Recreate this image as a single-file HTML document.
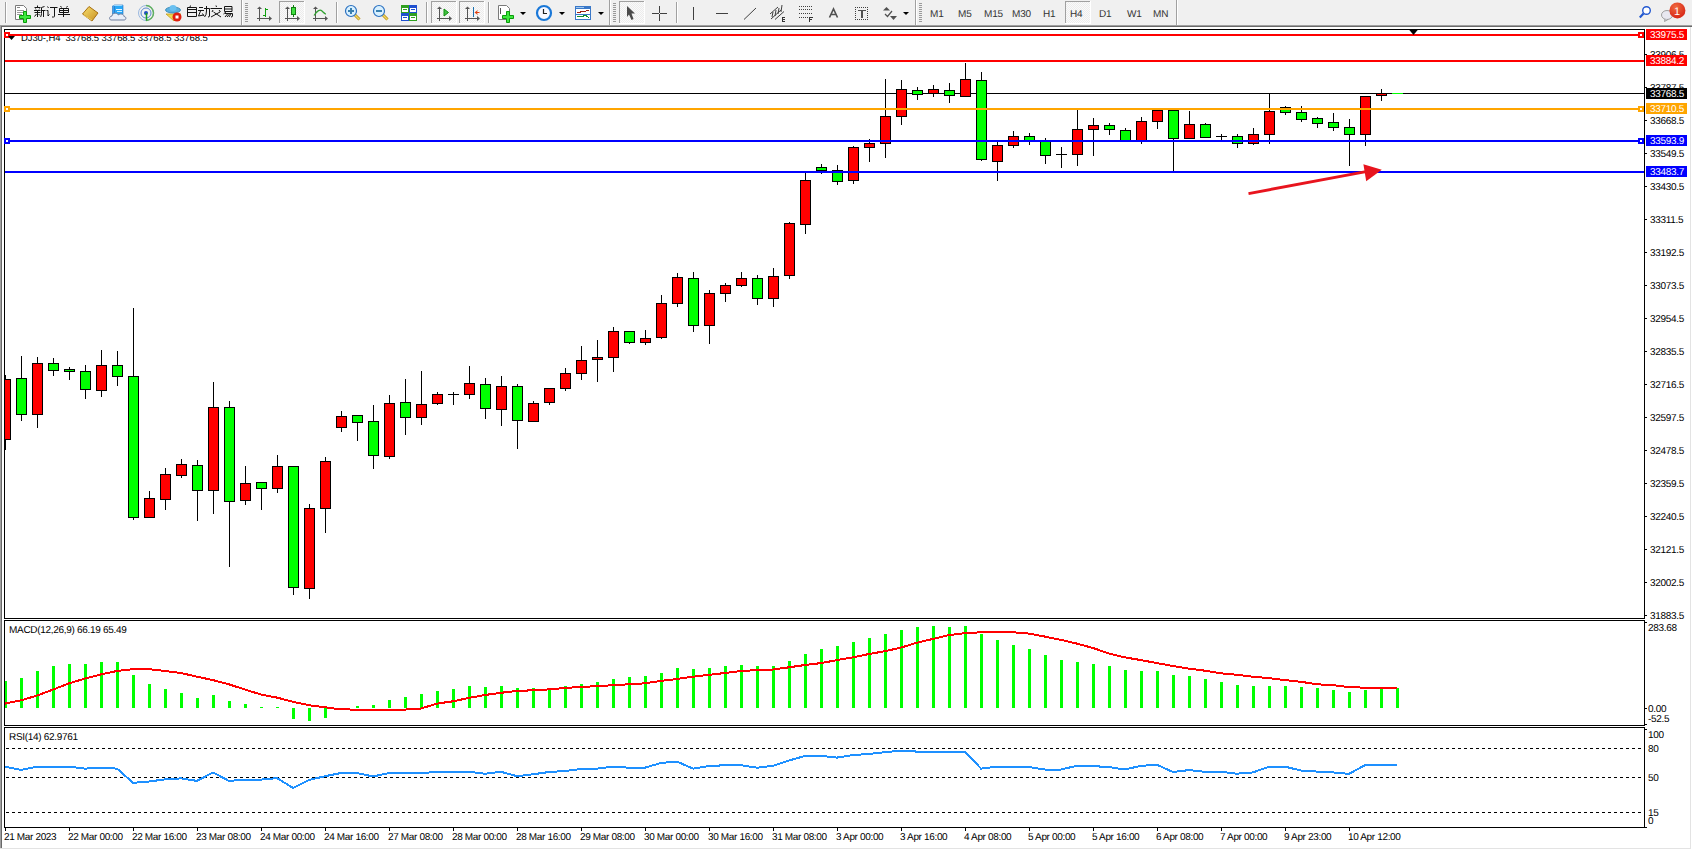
<!DOCTYPE html>
<html><head><meta charset="utf-8"><title>MT4</title>
<style>
html,body{margin:0;padding:0;width:1692px;height:850px;overflow:hidden;background:#f0f0f0;}
svg{display:block;position:absolute;left:0;top:0;}
text{font-family:"Liberation Sans",sans-serif;text-rendering:geometricPrecision;}
</style></head><body>
<svg width="1692" height="850" viewBox="0 0 1692 850" shape-rendering="crispEdges">
<rect x="0" y="0" width="1692" height="25" fill="#f0f0f0"/>
<defs><pattern id="chk" width="2" height="2" patternUnits="userSpaceOnUse"><rect width="2" height="2" fill="#fafafa"/><rect width="1" height="1" fill="#ececec"/><rect x="1" y="1" width="1" height="1" fill="#ececec"/></pattern><radialGradient id="bdg" cx="0.4" cy="0.3" r="0.8"><stop offset="0" stop-color="#f06a40"/><stop offset="1" stop-color="#d41e10"/></radialGradient><linearGradient id="gold" x1="0" y1="0" x2="1" y2="1"><stop offset="0" stop-color="#f8e070"/><stop offset="1" stop-color="#c89020"/></linearGradient></defs>
<rect x="5" y="2" width="1" height="21" fill="#a0a0a0"/>
<rect x="6" y="2" width="1" height="21" fill="#ffffff"/>
<path d="M15.5,5.5h8l3,3v11h-11z" fill="#fff" stroke="#7a7a7a" stroke-width="1" shape-rendering="auto"/>
<rect x="17" y="7" width="3" height="1" fill="#888"/>
<rect x="17" y="10" width="7" height="1" fill="#999"/>
<rect x="17" y="12" width="7" height="1" fill="#999"/>
<rect x="17" y="14" width="5" height="1" fill="#999"/>
<path d="M23.5,11.5h3v4h4v3h-4v4h-3v-4h-4v-3h4z" fill="#3ee83e" stroke="#0a9a0a" stroke-width="1" shape-rendering="auto"/>
<g fill="none" stroke="#141414" stroke-width="1" shape-rendering="auto"><path d="M37.5,5.5V7.5 M34.5,7.5H40.5 M35.5,8.5L36,9.5 M39.5,8.5L39,9.5 M34,10.5H40.5 M34.5,12.5H40.5 M37.5,10.5V17 M36.5,14L34.5,16.5 M38.5,14L40,15.5"/><path d="M44.5,6.5L41.5,7.5V13.5Q41.5,16 40.5,17 M41.5,10.5H45.5 M43.5,10.5V17"/><path d="M47.5,6.5L48.5,8 M46.5,10.5H48V16L49.5,14.5 M50,7.5H57.5 M54.5,7.5V16.5Q54.5,17 53.5,17H52"/><path d="M60.5,6L61.5,7.5 M67.5,6L66.5,7.5 M59.5,8.5H68.5V12.5H59.5Z M59.5,10.5H68.5 M63.5,8.5V17 M58,14.5H70"/></g>
<path d="M82.5,14 L89,6.5 L98,13 L92,21 Z" fill="url(#gold)" stroke="#a87010" stroke-width="1" shape-rendering="auto"/>
<path d="M84,15.5 L92,20" stroke="#e8c860" stroke-width="1" fill="none" shape-rendering="auto"/>
<g shape-rendering="auto"><path d="M112.5,6 L114.5,5 L114.5,15 L112.5,14 Z" fill="#3aa0f0" stroke="#2070c0" stroke-width="0.6"/><path d="M114.5,5 H123 V14.5 H114.5 Z" fill="#28a8f8" stroke="#2070c0" stroke-width="0.6"/><path d="M112.5,6 L114.5,5 H123 L121.5,6 Z" fill="#9ad8ff"/></g>
<rect x="116" y="9" width="6" height="1" fill="#e8f6ff"/>
<rect x="117" y="11" width="5" height="1" fill="#c8ecff"/>
<path d="M111,20 C109,20 109,16 112,16 C112,13 117,12 118.5,15 C120,13 124,14 124,16.5 C126.5,16.5 126.5,20 124,20 Z" fill="#e8eef8" stroke="#7080a0" stroke-width="1" shape-rendering="auto"/>
<g shape-rendering="auto" fill="none"><circle cx="146" cy="13" r="7.5" stroke="#9ab8e0" stroke-width="1"/><circle cx="146" cy="13" r="5" stroke="#5a88d0" stroke-width="1"/><path d="M146,5.5 A7.5,7.5 0 0 1 146,20.5" stroke="#60b060" stroke-width="1.5"/><circle cx="146" cy="13" r="2" fill="#2050c0" stroke="none"/><path d="M146.5,13 V20.5" stroke="#20a020" stroke-width="1.5"/></g>
<g shape-rendering="auto"><path d="M166,14 L174,21 L181,14 Z" fill="#f0d850" stroke="#c0a020" stroke-width="0.8"/><ellipse cx="173" cy="10" rx="7.5" ry="3" fill="#5ab0e0" stroke="#2a80b0" stroke-width="0.8"/><ellipse cx="173" cy="8" rx="3.5" ry="3" fill="#6ac0f0"/><circle cx="177" cy="17" r="4.5" fill="#e02010"/><rect x="175.5" y="15.5" width="3" height="3" fill="#fff"/></g>
<g fill="none" stroke="#141414" stroke-width="1" shape-rendering="auto"><path d="M190.5,5.5L190,7 M187.5,7.5H196.5V16.5H187.5Z M187.5,9.5H196.5 M187.5,12.5H196.5"/><path d="M199,7.5H203 M198,10.5H204 M200.5,11L198.5,16 L203.5,15 M202.5,13.5L204,16 M204,8.5H209.5V16Q209.5,17 208,17 M206.5,6V11Q206.5,15 204.5,17"/><path d="M216,5.5L216.5,7 M210.5,8.5H222 M213,10L212,12 M219,10L220.5,12 M213.5,12L221,17 M220,12L211,17"/><path d="M224.5,6.5H232V11.5H224.5Z M224.5,9H232 M226.5,11.5L223.5,14 M225,13.5H232.5V16Q232.5,17 231,17 M227.5,14L225,17 M229.5,14L227,17 M231,14L229,17"/></g>
<rect x="241" y="0" width="1" height="25" fill="#a0a0a0"/>
<rect x="242" y="0" width="1" height="25" fill="#ffffff"/>
<rect x="245" y="3" width="3" height="1" fill="#9a9a9a"/>
<rect x="245" y="5" width="3" height="1" fill="#9a9a9a"/>
<rect x="245" y="7" width="3" height="1" fill="#9a9a9a"/>
<rect x="245" y="9" width="3" height="1" fill="#9a9a9a"/>
<rect x="245" y="11" width="3" height="1" fill="#9a9a9a"/>
<rect x="245" y="13" width="3" height="1" fill="#9a9a9a"/>
<rect x="245" y="15" width="3" height="1" fill="#9a9a9a"/>
<rect x="245" y="17" width="3" height="1" fill="#9a9a9a"/>
<rect x="245" y="19" width="3" height="1" fill="#9a9a9a"/>
<rect x="245" y="21" width="3" height="1" fill="#9a9a9a"/>
<rect x="259" y="7" width="1" height="14" fill="#555"/>
<rect x="257" y="18" width="14" height="1" fill="#555"/>
<polygon points="257,9 262,9 259.5,6.5" fill="#555" shape-rendering="auto"/>
<polygon points="269,16 269,21 272,18.5" fill="#555" shape-rendering="auto"/>
<path d="M265.5,8 V16.5 M265.5,9.5 H268 M265.5,15.5 H263" stroke="#10a010" stroke-width="1.2" fill="none"/>
<rect x="279" y="1" width="26" height="23" fill="url(#chk)"/>
<rect x="279" y="1" width="25" height="1" fill="#a0a0a0"/>
<rect x="279" y="1" width="1" height="22" fill="#a0a0a0"/>
<rect x="279" y="23" width="26" height="1" fill="#ffffff"/>
<rect x="304" y="1" width="1" height="23" fill="#ffffff"/>
<rect x="287" y="7" width="1" height="14" fill="#555"/>
<rect x="285" y="18" width="14" height="1" fill="#555"/>
<polygon points="285,9 290,9 287.5,6.5" fill="#555" shape-rendering="auto"/>
<polygon points="297,16 297,21 300,18.5" fill="#555" shape-rendering="auto"/>
<rect x="293" y="5" width="1" height="12" fill="#108010"/>
<rect x="291" y="7" width="5" height="8" fill="#108010"/>
<rect x="292" y="8" width="3" height="6" fill="#40e040"/>
<rect x="315" y="7" width="1" height="14" fill="#555"/>
<rect x="313" y="18" width="14" height="1" fill="#555"/>
<polygon points="313,9 318,9 315.5,6.5" fill="#555" shape-rendering="auto"/>
<polygon points="325,16 325,21 328,18.5" fill="#555" shape-rendering="auto"/>
<path d="M314,15.5 Q319,8 322,11 T326,14" stroke="#30a030" stroke-width="1.2" fill="none" shape-rendering="auto"/>
<rect x="336" y="2" width="1" height="21" fill="#a0a0a0"/>
<rect x="337" y="2" width="1" height="21" fill="#ffffff"/>
<g shape-rendering="auto"><line x1="354.5" y1="14.5" x2="359.5" y2="19.5" stroke="#b88a10" stroke-width="3"/><line x1="354.5" y1="14.5" x2="359.5" y2="19.5" stroke="#f0d860" stroke-width="1.5"/><circle cx="351" cy="11" r="5.5" fill="#d8f0ff" stroke="#2a70c0" stroke-width="1.2"/><rect x="348" y="10" width="6" height="2" fill="#3a80b0"/><rect x="350" y="8" width="2" height="6" fill="#3a80b0"/></g>
<g shape-rendering="auto"><line x1="382.5" y1="14.5" x2="387.5" y2="19.5" stroke="#b88a10" stroke-width="3"/><line x1="382.5" y1="14.5" x2="387.5" y2="19.5" stroke="#f0d860" stroke-width="1.5"/><circle cx="379" cy="11" r="5.5" fill="#d8f0ff" stroke="#2a70c0" stroke-width="1.2"/><rect x="376" y="10" width="6" height="2" fill="#3a80b0"/></g>
<rect x="401" y="5" width="8" height="8" fill="#30a020"/>
<rect x="402" y="8" width="6" height="4" fill="#ffffff"/>
<rect x="403" y="9" width="4" height="1" fill="#30a020"/>
<rect x="409" y="5" width="8" height="8" fill="#2050d0"/>
<rect x="410" y="8" width="6" height="4" fill="#ffffff"/>
<rect x="411" y="9" width="4" height="1" fill="#2050d0"/>
<rect x="401" y="13" width="8" height="8" fill="#2050d0"/>
<rect x="402" y="16" width="6" height="4" fill="#ffffff"/>
<rect x="403" y="17" width="4" height="1" fill="#2050d0"/>
<rect x="409" y="13" width="8" height="8" fill="#30a020"/>
<rect x="410" y="16" width="6" height="4" fill="#ffffff"/>
<rect x="411" y="17" width="4" height="1" fill="#30a020"/>
<rect x="426" y="2" width="1" height="21" fill="#a0a0a0"/>
<rect x="427" y="2" width="1" height="21" fill="#ffffff"/>
<rect x="431" y="1" width="26" height="23" fill="url(#chk)"/>
<rect x="431" y="1" width="25" height="1" fill="#a0a0a0"/>
<rect x="431" y="1" width="1" height="22" fill="#a0a0a0"/>
<rect x="431" y="23" width="26" height="1" fill="#ffffff"/>
<rect x="456" y="1" width="1" height="23" fill="#ffffff"/>
<rect x="439" y="7" width="1" height="14" fill="#555"/>
<rect x="437" y="18" width="14" height="1" fill="#555"/>
<polygon points="437,9 442,9 439.5,6.5" fill="#555" shape-rendering="auto"/>
<polygon points="449,16 449,21 452,18.5" fill="#555" shape-rendering="auto"/>
<polygon points="444,9 448.5,12.5 444,16" fill="#40c040" stroke="#109010" stroke-width="1" shape-rendering="auto"/>
<rect x="459" y="1" width="26" height="23" fill="url(#chk)"/>
<rect x="459" y="1" width="25" height="1" fill="#a0a0a0"/>
<rect x="459" y="1" width="1" height="22" fill="#a0a0a0"/>
<rect x="459" y="23" width="26" height="1" fill="#ffffff"/>
<rect x="484" y="1" width="1" height="23" fill="#ffffff"/>
<rect x="467" y="7" width="1" height="14" fill="#555"/>
<rect x="465" y="18" width="14" height="1" fill="#555"/>
<polygon points="465,9 470,9 467.5,6.5" fill="#555" shape-rendering="auto"/>
<polygon points="477,16 477,21 480,18.5" fill="#555" shape-rendering="auto"/>
<rect x="473" y="7" width="1" height="10" fill="#1a70b0"/>
<polygon points="474.5,12.5 478,10 477,12 479.5,12 479.5,13 477,13 478,15" fill="#e04010" shape-rendering="auto"/>
<rect x="488" y="2" width="1" height="21" fill="#a0a0a0"/>
<rect x="489" y="2" width="1" height="21" fill="#ffffff"/>
<path d="M498.5,5.5h8l3,3v11h-11z" fill="#fff" stroke="#7a7a7a" stroke-width="1" shape-rendering="auto"/>
<rect x="500" y="8" width="1" height="6" fill="#555"/>
<path d="M506.5,11.5h3v4h4v3h-4v4h-3v-4h-4v-3h4z" fill="#3ee83e" stroke="#0a9a0a" stroke-width="1" shape-rendering="auto"/>
<polygon points="520,12 526,12 523,15" fill="#000" shape-rendering="auto"/>
<g shape-rendering="auto"><circle cx="544" cy="13" r="7" fill="#f8f8ff" stroke="#1a78d8" stroke-width="2.2"/><path d="M543.5,9 V13.5 H547" stroke="#222" stroke-width="1.2" fill="none"/></g>
<polygon points="559,12 565,12 562,15" fill="#000" shape-rendering="auto"/>
<rect x="575" y="6" width="16" height="14" fill="#3a78c8"/>
<rect x="576" y="9" width="14" height="5" fill="#fff"/>
<rect x="576" y="15" width="14" height="4" fill="#fff"/>
<rect x="576" y="7" width="8" height="1" fill="#a0c8f0"/>
<path d="M577,12.5 L580,12.5 L582,11 L584,11.5 L586,11 L589,10.5" stroke="#a02010" stroke-width="1" fill="none"/><path d="M577,17 L580,16 L582,17 L585,15 L589,17.5" stroke="#10902a" stroke-width="1" fill="none"/>
<polygon points="598,12 604,12 601,15" fill="#000" shape-rendering="auto"/>
<rect x="609" y="0" width="1" height="25" fill="#a0a0a0"/>
<rect x="610" y="0" width="1" height="25" fill="#ffffff"/>
<rect x="613" y="3" width="3" height="1" fill="#9a9a9a"/>
<rect x="613" y="5" width="3" height="1" fill="#9a9a9a"/>
<rect x="613" y="7" width="3" height="1" fill="#9a9a9a"/>
<rect x="613" y="9" width="3" height="1" fill="#9a9a9a"/>
<rect x="613" y="11" width="3" height="1" fill="#9a9a9a"/>
<rect x="613" y="13" width="3" height="1" fill="#9a9a9a"/>
<rect x="613" y="15" width="3" height="1" fill="#9a9a9a"/>
<rect x="613" y="17" width="3" height="1" fill="#9a9a9a"/>
<rect x="613" y="19" width="3" height="1" fill="#9a9a9a"/>
<rect x="613" y="21" width="3" height="1" fill="#9a9a9a"/>
<rect x="619" y="1" width="26" height="23" fill="url(#chk)"/>
<rect x="619" y="1" width="25" height="1" fill="#a0a0a0"/>
<rect x="619" y="1" width="1" height="22" fill="#a0a0a0"/>
<rect x="619" y="23" width="26" height="1" fill="#ffffff"/>
<rect x="644" y="1" width="1" height="23" fill="#ffffff"/>
<polygon points="627,6 635,13.5 631.5,13.5 633.5,19 631.5,20 629,14.5 627,17" fill="#4a4a4a" shape-rendering="auto"/>
<rect x="652" y="13" width="7" height="1" fill="#404040"/>
<rect x="660" y="13" width="7" height="1" fill="#404040"/>
<rect x="659" y="6" width="1" height="7" fill="#404040"/>
<rect x="659" y="14" width="1" height="7" fill="#404040"/>
<rect x="676" y="2" width="1" height="21" fill="#a0a0a0"/>
<rect x="677" y="2" width="1" height="21" fill="#ffffff"/>
<rect x="693" y="7" width="1" height="13" fill="#404040"/>
<rect x="716" y="13" width="12" height="1" fill="#404040"/>
<line x1="744" y1="19.5" x2="756" y2="8" stroke="#404040" stroke-width="1" shape-rendering="auto"/>
<g shape-rendering="auto" stroke="#404040" stroke-width="1" fill="none"><path d="M770,14 L778,7 M771,19 L781,10 M775,19.5 L784,11.5 M772,17 L773,12 M775,16 L776,10 M778,14 L779,8 M781,12 L782,5"/></g>
<path d="M785,17.5H782.2V21.5H785 M782.2,19.5H784.5" stroke="#333" stroke-width="1.2" fill="none"/>
<rect x="799" y="6" width="1" height="1" fill="#404040"/>
<rect x="801" y="6" width="1" height="1" fill="#404040"/>
<rect x="803" y="6" width="1" height="1" fill="#404040"/>
<rect x="805" y="6" width="1" height="1" fill="#404040"/>
<rect x="807" y="6" width="1" height="1" fill="#404040"/>
<rect x="809" y="6" width="1" height="1" fill="#404040"/>
<rect x="811" y="6" width="1" height="1" fill="#404040"/>
<rect x="799" y="9" width="1" height="1" fill="#404040"/>
<rect x="801" y="9" width="1" height="1" fill="#404040"/>
<rect x="803" y="9" width="1" height="1" fill="#404040"/>
<rect x="805" y="9" width="1" height="1" fill="#404040"/>
<rect x="807" y="9" width="1" height="1" fill="#404040"/>
<rect x="809" y="9" width="1" height="1" fill="#404040"/>
<rect x="811" y="9" width="1" height="1" fill="#404040"/>
<rect x="799" y="13" width="1" height="1" fill="#404040"/>
<rect x="801" y="13" width="1" height="1" fill="#404040"/>
<rect x="803" y="13" width="1" height="1" fill="#404040"/>
<rect x="805" y="13" width="1" height="1" fill="#404040"/>
<rect x="807" y="13" width="1" height="1" fill="#404040"/>
<rect x="809" y="13" width="1" height="1" fill="#404040"/>
<rect x="811" y="13" width="1" height="1" fill="#404040"/>
<rect x="799" y="17" width="1" height="1" fill="#404040"/>
<rect x="801" y="17" width="1" height="1" fill="#404040"/>
<rect x="803" y="17" width="1" height="1" fill="#404040"/>
<rect x="805" y="17" width="1" height="1" fill="#404040"/>
<rect x="807" y="17" width="1" height="1" fill="#404040"/>
<path d="M812.5,17.5H809.7V22 M809.7,19.5H812" stroke="#333" stroke-width="1.2" fill="none"/>
<path d="M829.5,17.5L833.5,9L837.5,17.5 M831,14.5H836" stroke="#505050" stroke-width="1.6" fill="none" shape-rendering="auto"/>
<rect x="855" y="7" width="1" height="1" fill="#404040"/>
<rect x="855" y="19" width="1" height="1" fill="#404040"/>
<rect x="857" y="7" width="1" height="1" fill="#404040"/>
<rect x="857" y="19" width="1" height="1" fill="#404040"/>
<rect x="859" y="7" width="1" height="1" fill="#404040"/>
<rect x="859" y="19" width="1" height="1" fill="#404040"/>
<rect x="861" y="7" width="1" height="1" fill="#404040"/>
<rect x="861" y="19" width="1" height="1" fill="#404040"/>
<rect x="863" y="7" width="1" height="1" fill="#404040"/>
<rect x="863" y="19" width="1" height="1" fill="#404040"/>
<rect x="865" y="7" width="1" height="1" fill="#404040"/>
<rect x="865" y="19" width="1" height="1" fill="#404040"/>
<rect x="867" y="7" width="1" height="1" fill="#404040"/>
<rect x="867" y="19" width="1" height="1" fill="#404040"/>
<rect x="855" y="7" width="1" height="1" fill="#404040"/>
<rect x="867" y="7" width="1" height="1" fill="#404040"/>
<rect x="855" y="9" width="1" height="1" fill="#404040"/>
<rect x="867" y="9" width="1" height="1" fill="#404040"/>
<rect x="855" y="11" width="1" height="1" fill="#404040"/>
<rect x="867" y="11" width="1" height="1" fill="#404040"/>
<rect x="855" y="13" width="1" height="1" fill="#404040"/>
<rect x="867" y="13" width="1" height="1" fill="#404040"/>
<rect x="855" y="15" width="1" height="1" fill="#404040"/>
<rect x="867" y="15" width="1" height="1" fill="#404040"/>
<rect x="855" y="17" width="1" height="1" fill="#404040"/>
<rect x="867" y="17" width="1" height="1" fill="#404040"/>
<rect x="855" y="19" width="1" height="1" fill="#404040"/>
<rect x="867" y="19" width="1" height="1" fill="#404040"/>
<rect x="858" y="10" width="8" height="1" fill="#505050"/>
<rect x="861" y="10" width="2" height="8" fill="#505050"/>
<g shape-rendering="auto" fill="#505050"><polygon points="883,10.5 886.5,7 890,10.5"/><polygon points="890,16 897,16 893.5,20"/><path d="M885,14 L887.5,16.5 L892,11" stroke="#505050" stroke-width="1.2" fill="none"/></g>
<polygon points="903,12 909,12 906,15" fill="#000" shape-rendering="auto"/>
<rect x="915" y="0" width="1" height="25" fill="#a0a0a0"/>
<rect x="916" y="0" width="1" height="25" fill="#ffffff"/>
<rect x="919" y="3" width="3" height="1" fill="#9a9a9a"/>
<rect x="919" y="5" width="3" height="1" fill="#9a9a9a"/>
<rect x="919" y="7" width="3" height="1" fill="#9a9a9a"/>
<rect x="919" y="9" width="3" height="1" fill="#9a9a9a"/>
<rect x="919" y="11" width="3" height="1" fill="#9a9a9a"/>
<rect x="919" y="13" width="3" height="1" fill="#9a9a9a"/>
<rect x="919" y="15" width="3" height="1" fill="#9a9a9a"/>
<rect x="919" y="17" width="3" height="1" fill="#9a9a9a"/>
<rect x="919" y="19" width="3" height="1" fill="#9a9a9a"/>
<rect x="919" y="21" width="3" height="1" fill="#9a9a9a"/>
<rect x="1065" y="1" width="26" height="23" fill="url(#chk)"/>
<rect x="1065" y="1" width="25" height="1" fill="#a0a0a0"/>
<rect x="1065" y="1" width="1" height="22" fill="#a0a0a0"/>
<rect x="1065" y="23" width="26" height="1" fill="#ffffff"/>
<rect x="1090" y="1" width="1" height="23" fill="#ffffff"/>
<text x="930" y="17" font-size="10" fill="#333" letter-spacing="-0.2">M1</text>
<text x="958" y="17" font-size="10" fill="#333" letter-spacing="-0.2">M5</text>
<text x="984" y="17" font-size="10" fill="#333" letter-spacing="-0.2">M15</text>
<text x="1012" y="17" font-size="10" fill="#333" letter-spacing="-0.2">M30</text>
<text x="1043" y="17" font-size="10" fill="#333" letter-spacing="-0.2">H1</text>
<text x="1070" y="17" font-size="10" fill="#333" letter-spacing="-0.2">H4</text>
<text x="1099" y="17" font-size="10" fill="#333" letter-spacing="-0.2">D1</text>
<text x="1127" y="17" font-size="10" fill="#333" letter-spacing="-0.2">W1</text>
<text x="1153" y="17" font-size="10" fill="#333" letter-spacing="-0.2">MN</text>
<rect x="1176" y="0" width="1" height="25" fill="#a0a0a0"/>
<rect x="1177" y="0" width="1" height="25" fill="#ffffff"/>
<g shape-rendering="auto"><circle cx="1646.5" cy="10.5" r="3.8" fill="#fff" stroke="#2258d0" stroke-width="1.4"/><line x1="1643.5" y1="13.5" x2="1639.8" y2="17.5" stroke="#2258d0" stroke-width="2.2"/></g>
<g shape-rendering="auto"><ellipse cx="1667" cy="15" rx="5.5" ry="4.5" fill="#e8e8f0" stroke="#a0a0a0" stroke-width="1"/><path d="M1665,19 L1664.5,21.5 L1668,19.5" fill="#d0d0d8" stroke="#909090" stroke-width="0.8"/><circle cx="1677.4" cy="10.4" r="8" fill="url(#bdg)"/></g>
<text x="1674" y="15" font-size="11" fill="#fff" letter-spacing="0">1</text>
<rect x="0" y="25" width="1692" height="1" fill="#a0a0a0"/>
<rect x="0" y="26" width="1692" height="1" fill="#696969"/>
<rect x="0" y="27" width="1692" height="823" fill="#ffffff"/>
<rect x="0" y="25" width="1" height="823" fill="#a0a0a0"/>
<rect x="1" y="26" width="1" height="822" fill="#696969"/>
<rect x="1690" y="27" width="1" height="822" fill="#e3e3e3"/>
<rect x="0" y="848" width="1691" height="1" fill="#e3e3e3"/>
<rect x="4" y="29" width="1641" height="1" fill="#000"/>
<rect x="4" y="618" width="1641" height="1" fill="#000"/>
<rect x="4" y="29" width="1" height="590" fill="#000"/>
<rect x="1644" y="29" width="1" height="590" fill="#000"/>
<rect x="4" y="620" width="1641" height="1" fill="#000"/>
<rect x="4" y="725" width="1641" height="1" fill="#000"/>
<rect x="4" y="620" width="1" height="106" fill="#000"/>
<rect x="1644" y="620" width="1" height="106" fill="#000"/>
<rect x="4" y="727" width="1641" height="1" fill="#000"/>
<rect x="4" y="827" width="1641" height="1" fill="#000"/>
<rect x="4" y="727" width="1" height="101" fill="#000"/>
<rect x="1644" y="727" width="1" height="101" fill="#000"/>
<defs><clipPath id="cm"><rect x="5" y="30" width="1639" height="588"/></clipPath><clipPath id="cd"><rect x="5" y="621" width="1639" height="104"/></clipPath><clipPath id="cr"><rect x="5" y="728" width="1639" height="99"/></clipPath></defs>
<g clip-path="url(#cm)">
<text x="21" y="41" font-size="9.5" fill="#000" letter-spacing="-0.1">DJ30-,H4&#160;&#160;33768.5 33768.5 33768.5 33768.5</text>
<rect x="1392" y="93" width="11" height="1" fill="#00ff00"/>
<rect x="5" y="93" width="1639" height="1" fill="#000"/>
<rect x="5" y="375" width="1" height="75" fill="#000"/>
<rect x="0" y="379" width="11" height="61" fill="#000"/>
<rect x="1" y="380" width="9" height="59" fill="#ff0000"/>
<rect x="21" y="356" width="1" height="65" fill="#000"/>
<rect x="16" y="378" width="11" height="37" fill="#000"/>
<rect x="17" y="379" width="9" height="35" fill="#00ff00"/>
<rect x="37" y="357" width="1" height="71" fill="#000"/>
<rect x="32" y="363" width="11" height="52" fill="#000"/>
<rect x="33" y="364" width="9" height="50" fill="#ff0000"/>
<rect x="53" y="358" width="1" height="18" fill="#000"/>
<rect x="48" y="363" width="11" height="8" fill="#000"/>
<rect x="49" y="364" width="9" height="6" fill="#00ff00"/>
<rect x="69" y="367" width="1" height="13" fill="#000"/>
<rect x="64" y="369" width="11" height="3" fill="#000"/>
<rect x="65" y="370" width="9" height="1" fill="#00ff00"/>
<rect x="85" y="365" width="1" height="34" fill="#000"/>
<rect x="80" y="371" width="11" height="19" fill="#000"/>
<rect x="81" y="372" width="9" height="17" fill="#00ff00"/>
<rect x="101" y="350" width="1" height="47" fill="#000"/>
<rect x="96" y="365" width="11" height="26" fill="#000"/>
<rect x="97" y="366" width="9" height="24" fill="#ff0000"/>
<rect x="117" y="351" width="1" height="35" fill="#000"/>
<rect x="112" y="365" width="11" height="12" fill="#000"/>
<rect x="113" y="366" width="9" height="10" fill="#00ff00"/>
<rect x="133" y="308" width="1" height="212" fill="#000"/>
<rect x="128" y="376" width="11" height="142" fill="#000"/>
<rect x="129" y="377" width="9" height="140" fill="#00ff00"/>
<rect x="149" y="491" width="1" height="27" fill="#000"/>
<rect x="144" y="498" width="11" height="20" fill="#000"/>
<rect x="145" y="499" width="9" height="18" fill="#ff0000"/>
<rect x="165" y="468" width="1" height="42" fill="#000"/>
<rect x="160" y="474" width="11" height="26" fill="#000"/>
<rect x="161" y="475" width="9" height="24" fill="#ff0000"/>
<rect x="181" y="459" width="1" height="19" fill="#000"/>
<rect x="176" y="464" width="11" height="12" fill="#000"/>
<rect x="177" y="465" width="9" height="10" fill="#ff0000"/>
<rect x="197" y="460" width="1" height="61" fill="#000"/>
<rect x="192" y="465" width="11" height="26" fill="#000"/>
<rect x="193" y="466" width="9" height="24" fill="#00ff00"/>
<rect x="213" y="382" width="1" height="132" fill="#000"/>
<rect x="208" y="407" width="11" height="84" fill="#000"/>
<rect x="209" y="408" width="9" height="82" fill="#ff0000"/>
<rect x="229" y="401" width="1" height="166" fill="#000"/>
<rect x="224" y="407" width="11" height="95" fill="#000"/>
<rect x="225" y="408" width="9" height="93" fill="#00ff00"/>
<rect x="245" y="466" width="1" height="39" fill="#000"/>
<rect x="240" y="483" width="11" height="18" fill="#000"/>
<rect x="241" y="484" width="9" height="16" fill="#ff0000"/>
<rect x="261" y="482" width="1" height="28" fill="#000"/>
<rect x="256" y="482" width="11" height="7" fill="#000"/>
<rect x="257" y="483" width="9" height="5" fill="#00ff00"/>
<rect x="277" y="455" width="1" height="38" fill="#000"/>
<rect x="272" y="466" width="11" height="23" fill="#000"/>
<rect x="273" y="467" width="9" height="21" fill="#ff0000"/>
<rect x="293" y="466" width="1" height="129" fill="#000"/>
<rect x="288" y="466" width="11" height="122" fill="#000"/>
<rect x="289" y="467" width="9" height="120" fill="#00ff00"/>
<rect x="309" y="504" width="1" height="95" fill="#000"/>
<rect x="304" y="508" width="11" height="81" fill="#000"/>
<rect x="305" y="509" width="9" height="79" fill="#ff0000"/>
<rect x="325" y="457" width="1" height="76" fill="#000"/>
<rect x="320" y="461" width="11" height="48" fill="#000"/>
<rect x="321" y="462" width="9" height="46" fill="#ff0000"/>
<rect x="341" y="411" width="1" height="21" fill="#000"/>
<rect x="336" y="416" width="11" height="12" fill="#000"/>
<rect x="337" y="417" width="9" height="10" fill="#ff0000"/>
<rect x="357" y="416" width="1" height="25" fill="#000"/>
<rect x="352" y="415" width="11" height="8" fill="#000"/>
<rect x="353" y="416" width="9" height="6" fill="#00ff00"/>
<rect x="373" y="405" width="1" height="64" fill="#000"/>
<rect x="368" y="421" width="11" height="35" fill="#000"/>
<rect x="369" y="422" width="9" height="33" fill="#00ff00"/>
<rect x="389" y="395" width="1" height="64" fill="#000"/>
<rect x="384" y="403" width="11" height="54" fill="#000"/>
<rect x="385" y="404" width="9" height="52" fill="#ff0000"/>
<rect x="405" y="379" width="1" height="56" fill="#000"/>
<rect x="400" y="402" width="11" height="16" fill="#000"/>
<rect x="401" y="403" width="9" height="14" fill="#00ff00"/>
<rect x="421" y="371" width="1" height="54" fill="#000"/>
<rect x="416" y="404" width="11" height="14" fill="#000"/>
<rect x="417" y="405" width="9" height="12" fill="#ff0000"/>
<rect x="437" y="392" width="1" height="13" fill="#000"/>
<rect x="432" y="394" width="11" height="10" fill="#000"/>
<rect x="433" y="395" width="9" height="8" fill="#ff0000"/>
<rect x="453" y="392" width="1" height="13" fill="#000"/>
<rect x="448" y="394" width="11" height="1" fill="#000"/>
<rect x="469" y="366" width="1" height="33" fill="#000"/>
<rect x="464" y="383" width="11" height="12" fill="#000"/>
<rect x="465" y="384" width="9" height="10" fill="#ff0000"/>
<rect x="485" y="378" width="1" height="41" fill="#000"/>
<rect x="480" y="384" width="11" height="25" fill="#000"/>
<rect x="481" y="385" width="9" height="23" fill="#00ff00"/>
<rect x="501" y="376" width="1" height="50" fill="#000"/>
<rect x="496" y="386" width="11" height="24" fill="#000"/>
<rect x="497" y="387" width="9" height="22" fill="#ff0000"/>
<rect x="517" y="384" width="1" height="65" fill="#000"/>
<rect x="512" y="386" width="11" height="35" fill="#000"/>
<rect x="513" y="387" width="9" height="33" fill="#00ff00"/>
<rect x="533" y="401" width="1" height="21" fill="#000"/>
<rect x="528" y="403" width="11" height="19" fill="#000"/>
<rect x="529" y="404" width="9" height="17" fill="#ff0000"/>
<rect x="549" y="388" width="1" height="17" fill="#000"/>
<rect x="544" y="388" width="11" height="15" fill="#000"/>
<rect x="545" y="389" width="9" height="13" fill="#ff0000"/>
<rect x="565" y="368" width="1" height="23" fill="#000"/>
<rect x="560" y="373" width="11" height="16" fill="#000"/>
<rect x="561" y="374" width="9" height="14" fill="#ff0000"/>
<rect x="581" y="346" width="1" height="34" fill="#000"/>
<rect x="576" y="360" width="11" height="14" fill="#000"/>
<rect x="577" y="361" width="9" height="12" fill="#ff0000"/>
<rect x="597" y="340" width="1" height="42" fill="#000"/>
<rect x="592" y="357" width="11" height="3" fill="#000"/>
<rect x="593" y="358" width="9" height="1" fill="#ff0000"/>
<rect x="613" y="327" width="1" height="45" fill="#000"/>
<rect x="608" y="331" width="11" height="27" fill="#000"/>
<rect x="609" y="332" width="9" height="25" fill="#ff0000"/>
<rect x="629" y="331" width="1" height="13" fill="#000"/>
<rect x="624" y="331" width="11" height="12" fill="#000"/>
<rect x="625" y="332" width="9" height="10" fill="#00ff00"/>
<rect x="645" y="330" width="1" height="15" fill="#000"/>
<rect x="640" y="338" width="11" height="5" fill="#000"/>
<rect x="641" y="339" width="9" height="3" fill="#ff0000"/>
<rect x="661" y="295" width="1" height="44" fill="#000"/>
<rect x="656" y="303" width="11" height="35" fill="#000"/>
<rect x="657" y="304" width="9" height="33" fill="#ff0000"/>
<rect x="677" y="273" width="1" height="34" fill="#000"/>
<rect x="672" y="277" width="11" height="27" fill="#000"/>
<rect x="673" y="278" width="9" height="25" fill="#ff0000"/>
<rect x="693" y="272" width="1" height="60" fill="#000"/>
<rect x="688" y="278" width="11" height="48" fill="#000"/>
<rect x="689" y="279" width="9" height="46" fill="#00ff00"/>
<rect x="709" y="290" width="1" height="54" fill="#000"/>
<rect x="704" y="293" width="11" height="33" fill="#000"/>
<rect x="705" y="294" width="9" height="31" fill="#ff0000"/>
<rect x="725" y="283" width="1" height="19" fill="#000"/>
<rect x="720" y="285" width="11" height="9" fill="#000"/>
<rect x="721" y="286" width="9" height="7" fill="#ff0000"/>
<rect x="741" y="272" width="1" height="15" fill="#000"/>
<rect x="736" y="278" width="11" height="8" fill="#000"/>
<rect x="737" y="279" width="9" height="6" fill="#ff0000"/>
<rect x="757" y="275" width="1" height="30" fill="#000"/>
<rect x="752" y="278" width="11" height="21" fill="#000"/>
<rect x="753" y="279" width="9" height="19" fill="#00ff00"/>
<rect x="773" y="268" width="1" height="39" fill="#000"/>
<rect x="768" y="276" width="11" height="23" fill="#000"/>
<rect x="769" y="277" width="9" height="21" fill="#ff0000"/>
<rect x="789" y="222" width="1" height="57" fill="#000"/>
<rect x="784" y="223" width="11" height="53" fill="#000"/>
<rect x="785" y="224" width="9" height="51" fill="#ff0000"/>
<rect x="805" y="173" width="1" height="61" fill="#000"/>
<rect x="800" y="180" width="11" height="45" fill="#000"/>
<rect x="801" y="181" width="9" height="43" fill="#ff0000"/>
<rect x="821" y="164" width="1" height="10" fill="#000"/>
<rect x="816" y="167" width="11" height="4" fill="#000"/>
<rect x="817" y="168" width="9" height="2" fill="#00ff00"/>
<rect x="837" y="165" width="1" height="20" fill="#000"/>
<rect x="832" y="170" width="11" height="12" fill="#000"/>
<rect x="833" y="171" width="9" height="10" fill="#00ff00"/>
<rect x="853" y="146" width="1" height="38" fill="#000"/>
<rect x="848" y="147" width="11" height="34" fill="#000"/>
<rect x="849" y="148" width="9" height="32" fill="#ff0000"/>
<rect x="869" y="139" width="1" height="23" fill="#000"/>
<rect x="864" y="143" width="11" height="5" fill="#000"/>
<rect x="865" y="144" width="9" height="3" fill="#ff0000"/>
<rect x="885" y="79" width="1" height="79" fill="#000"/>
<rect x="880" y="116" width="11" height="28" fill="#000"/>
<rect x="881" y="117" width="9" height="26" fill="#ff0000"/>
<rect x="901" y="80" width="1" height="45" fill="#000"/>
<rect x="896" y="89" width="11" height="28" fill="#000"/>
<rect x="897" y="90" width="9" height="26" fill="#ff0000"/>
<rect x="917" y="87" width="1" height="13" fill="#000"/>
<rect x="912" y="90" width="11" height="5" fill="#000"/>
<rect x="913" y="91" width="9" height="3" fill="#00ff00"/>
<rect x="933" y="85" width="1" height="12" fill="#000"/>
<rect x="928" y="89" width="11" height="5" fill="#000"/>
<rect x="929" y="90" width="9" height="3" fill="#ff0000"/>
<rect x="949" y="83" width="1" height="20" fill="#000"/>
<rect x="944" y="90" width="11" height="6" fill="#000"/>
<rect x="945" y="91" width="9" height="4" fill="#00ff00"/>
<rect x="965" y="63" width="1" height="33" fill="#000"/>
<rect x="960" y="79" width="11" height="18" fill="#000"/>
<rect x="961" y="80" width="9" height="16" fill="#ff0000"/>
<rect x="981" y="72" width="1" height="89" fill="#000"/>
<rect x="976" y="80" width="11" height="80" fill="#000"/>
<rect x="977" y="81" width="9" height="78" fill="#00ff00"/>
<rect x="997" y="142" width="1" height="39" fill="#000"/>
<rect x="992" y="145" width="11" height="17" fill="#000"/>
<rect x="993" y="146" width="9" height="15" fill="#ff0000"/>
<rect x="1013" y="131" width="1" height="17" fill="#000"/>
<rect x="1008" y="136" width="11" height="10" fill="#000"/>
<rect x="1009" y="137" width="9" height="8" fill="#ff0000"/>
<rect x="1029" y="133" width="1" height="12" fill="#000"/>
<rect x="1024" y="136" width="11" height="5" fill="#000"/>
<rect x="1025" y="137" width="9" height="3" fill="#00ff00"/>
<rect x="1045" y="138" width="1" height="26" fill="#000"/>
<rect x="1040" y="140" width="11" height="16" fill="#000"/>
<rect x="1041" y="141" width="9" height="14" fill="#00ff00"/>
<rect x="1061" y="147" width="1" height="21" fill="#000"/>
<rect x="1056" y="154" width="11" height="1" fill="#000"/>
<rect x="1077" y="110" width="1" height="56" fill="#000"/>
<rect x="1072" y="129" width="11" height="26" fill="#000"/>
<rect x="1073" y="130" width="9" height="24" fill="#ff0000"/>
<rect x="1093" y="118" width="1" height="38" fill="#000"/>
<rect x="1088" y="125" width="11" height="5" fill="#000"/>
<rect x="1089" y="126" width="9" height="3" fill="#ff0000"/>
<rect x="1109" y="123" width="1" height="12" fill="#000"/>
<rect x="1104" y="125" width="11" height="5" fill="#000"/>
<rect x="1105" y="126" width="9" height="3" fill="#00ff00"/>
<rect x="1125" y="128" width="1" height="13" fill="#000"/>
<rect x="1120" y="130" width="11" height="12" fill="#000"/>
<rect x="1121" y="131" width="9" height="10" fill="#00ff00"/>
<rect x="1141" y="117" width="1" height="27" fill="#000"/>
<rect x="1136" y="121" width="11" height="21" fill="#000"/>
<rect x="1137" y="122" width="9" height="19" fill="#ff0000"/>
<rect x="1157" y="111" width="1" height="18" fill="#000"/>
<rect x="1152" y="110" width="11" height="12" fill="#000"/>
<rect x="1153" y="111" width="9" height="10" fill="#ff0000"/>
<rect x="1173" y="110" width="1" height="61" fill="#000"/>
<rect x="1168" y="110" width="11" height="29" fill="#000"/>
<rect x="1169" y="111" width="9" height="27" fill="#00ff00"/>
<rect x="1189" y="111" width="1" height="27" fill="#000"/>
<rect x="1184" y="124" width="11" height="15" fill="#000"/>
<rect x="1185" y="125" width="9" height="13" fill="#ff0000"/>
<rect x="1205" y="123" width="1" height="14" fill="#000"/>
<rect x="1200" y="124" width="11" height="14" fill="#000"/>
<rect x="1201" y="125" width="9" height="12" fill="#00ff00"/>
<rect x="1221" y="134" width="1" height="6" fill="#000"/>
<rect x="1216" y="136" width="11" height="1" fill="#000"/>
<rect x="1237" y="134" width="1" height="14" fill="#000"/>
<rect x="1232" y="136" width="11" height="8" fill="#000"/>
<rect x="1233" y="137" width="9" height="6" fill="#00ff00"/>
<rect x="1253" y="128" width="1" height="17" fill="#000"/>
<rect x="1248" y="134" width="11" height="10" fill="#000"/>
<rect x="1249" y="135" width="9" height="8" fill="#ff0000"/>
<rect x="1269" y="94" width="1" height="50" fill="#000"/>
<rect x="1264" y="111" width="11" height="24" fill="#000"/>
<rect x="1265" y="112" width="9" height="22" fill="#ff0000"/>
<rect x="1285" y="106" width="1" height="9" fill="#000"/>
<rect x="1280" y="107" width="11" height="6" fill="#000"/>
<rect x="1281" y="108" width="9" height="4" fill="#00ff00"/>
<rect x="1301" y="106" width="1" height="16" fill="#000"/>
<rect x="1296" y="112" width="11" height="8" fill="#000"/>
<rect x="1297" y="113" width="9" height="6" fill="#00ff00"/>
<rect x="1317" y="117" width="1" height="11" fill="#000"/>
<rect x="1312" y="118" width="11" height="6" fill="#000"/>
<rect x="1313" y="119" width="9" height="4" fill="#00ff00"/>
<rect x="1333" y="113" width="1" height="18" fill="#000"/>
<rect x="1328" y="122" width="11" height="6" fill="#000"/>
<rect x="1329" y="123" width="9" height="4" fill="#00ff00"/>
<rect x="1349" y="119" width="1" height="47" fill="#000"/>
<rect x="1344" y="127" width="11" height="8" fill="#000"/>
<rect x="1345" y="128" width="9" height="6" fill="#00ff00"/>
<rect x="1365" y="96" width="1" height="50" fill="#000"/>
<rect x="1360" y="96" width="11" height="39" fill="#000"/>
<rect x="1361" y="97" width="9" height="37" fill="#ff0000"/>
<rect x="1381" y="89" width="1" height="12" fill="#000"/>
<rect x="1376" y="93" width="11" height="3" fill="#000"/>
<rect x="1377" y="94" width="9" height="1" fill="#ff0000"/>
<rect x="1392" y="93" width="11" height="1" fill="#00ff00"/>
<rect x="5" y="34" width="1639" height="2" fill="#ff0000"/>
<rect x="4" y="32" width="6" height="6" fill="#ff0000"/>
<rect x="6" y="34" width="2" height="2" fill="#fff"/>
<rect x="1638" y="32" width="6" height="6" fill="#ff0000"/>
<rect x="1640" y="34" width="2" height="2" fill="#fff"/>
<rect x="5" y="60" width="1639" height="2" fill="#ff0000"/>
<rect x="5" y="108" width="1639" height="2" fill="#ffa500"/>
<rect x="4" y="106" width="6" height="6" fill="#ffa500"/>
<rect x="6" y="108" width="2" height="2" fill="#fff"/>
<rect x="1638" y="106" width="6" height="6" fill="#ffa500"/>
<rect x="1640" y="108" width="2" height="2" fill="#fff"/>
<rect x="5" y="140" width="1639" height="2" fill="#0000ff"/>
<rect x="4" y="138" width="6" height="6" fill="#0000ff"/>
<rect x="6" y="140" width="2" height="2" fill="#fff"/>
<rect x="1638" y="138" width="6" height="6" fill="#0000ff"/>
<rect x="1640" y="140" width="2" height="2" fill="#fff"/>
<rect x="5" y="171" width="1639" height="2" fill="#0000ff"/>
<polygon points="1408.5,29 1418.5,29 1413.5,35" fill="#000" shape-rendering="auto"/>
<g shape-rendering="auto"><line x1="1248.5" y1="193.6" x2="1366" y2="171.6" stroke="#e8141e" stroke-width="3"/><polygon points="1363.4,164.3 1381.8,169.7 1366.2,181.3" fill="#e8141e"/></g>
</g>
<rect x="4" y="32" width="6" height="6" fill="#ff0000"/>
<rect x="6" y="34" width="2" height="2" fill="#fff"/>
<rect x="4" y="106" width="6" height="6" fill="#ffa500"/>
<rect x="6" y="108" width="2" height="2" fill="#fff"/>
<rect x="4" y="138" width="6" height="6" fill="#0000ff"/>
<rect x="6" y="140" width="2" height="2" fill="#fff"/>
<polygon points="8,36 15,36 11.5,40" fill="#000" shape-rendering="auto"/>
<rect x="1645" y="54" width="2" height="1" fill="#000"/>
<text x="1650" y="58" font-size="10" fill="#000" letter-spacing="-0.3">33906.5</text>
<rect x="1645" y="87" width="2" height="1" fill="#000"/>
<text x="1650" y="91" font-size="10" fill="#000" letter-spacing="-0.3">33787.5</text>
<rect x="1645" y="120" width="2" height="1" fill="#000"/>
<text x="1650" y="124" font-size="10" fill="#000" letter-spacing="-0.3">33668.5</text>
<rect x="1645" y="153" width="2" height="1" fill="#000"/>
<text x="1650" y="157" font-size="10" fill="#000" letter-spacing="-0.3">33549.5</text>
<rect x="1645" y="186" width="2" height="1" fill="#000"/>
<text x="1650" y="190" font-size="10" fill="#000" letter-spacing="-0.3">33430.5</text>
<rect x="1645" y="219" width="2" height="1" fill="#000"/>
<text x="1650" y="223" font-size="10" fill="#000" letter-spacing="-0.3">33311.5</text>
<rect x="1645" y="252" width="2" height="1" fill="#000"/>
<text x="1650" y="256" font-size="10" fill="#000" letter-spacing="-0.3">33192.5</text>
<rect x="1645" y="285" width="2" height="1" fill="#000"/>
<text x="1650" y="289" font-size="10" fill="#000" letter-spacing="-0.3">33073.5</text>
<rect x="1645" y="318" width="2" height="1" fill="#000"/>
<text x="1650" y="322" font-size="10" fill="#000" letter-spacing="-0.3">32954.5</text>
<rect x="1645" y="351" width="2" height="1" fill="#000"/>
<text x="1650" y="355" font-size="10" fill="#000" letter-spacing="-0.3">32835.5</text>
<rect x="1645" y="384" width="2" height="1" fill="#000"/>
<text x="1650" y="388" font-size="10" fill="#000" letter-spacing="-0.3">32716.5</text>
<rect x="1645" y="417" width="2" height="1" fill="#000"/>
<text x="1650" y="421" font-size="10" fill="#000" letter-spacing="-0.3">32597.5</text>
<rect x="1645" y="450" width="2" height="1" fill="#000"/>
<text x="1650" y="454" font-size="10" fill="#000" letter-spacing="-0.3">32478.5</text>
<rect x="1645" y="483" width="2" height="1" fill="#000"/>
<text x="1650" y="487" font-size="10" fill="#000" letter-spacing="-0.3">32359.5</text>
<rect x="1645" y="516" width="2" height="1" fill="#000"/>
<text x="1650" y="520" font-size="10" fill="#000" letter-spacing="-0.3">32240.5</text>
<rect x="1645" y="549" width="2" height="1" fill="#000"/>
<text x="1650" y="553" font-size="10" fill="#000" letter-spacing="-0.3">32121.5</text>
<rect x="1645" y="582" width="2" height="1" fill="#000"/>
<text x="1650" y="586" font-size="10" fill="#000" letter-spacing="-0.3">32002.5</text>
<rect x="1645" y="615" width="2" height="1" fill="#000"/>
<text x="1650" y="619" font-size="10" fill="#000" letter-spacing="-0.3">31883.5</text>
<rect x="1646" y="29" width="41" height="11" fill="#ff0000"/>
<text x="1650" y="38" font-size="10" fill="#fff" letter-spacing="-0.3">33975.5</text>
<rect x="1646" y="55" width="41" height="11" fill="#ff0000"/>
<text x="1650" y="64" font-size="10" fill="#fff" letter-spacing="-0.3">33884.2</text>
<rect x="1646" y="88" width="41" height="11" fill="#000000"/>
<text x="1650" y="97" font-size="10" fill="#fff" letter-spacing="-0.3">33768.5</text>
<rect x="1646" y="103" width="41" height="11" fill="#ffa500"/>
<text x="1650" y="112" font-size="10" fill="#fff" letter-spacing="-0.3">33710.5</text>
<rect x="1646" y="135" width="41" height="11" fill="#0000ff"/>
<text x="1650" y="144" font-size="10" fill="#fff" letter-spacing="-0.3">33593.9</text>
<rect x="1646" y="166" width="41" height="11" fill="#0000ff"/>
<text x="1650" y="175" font-size="10" fill="#fff" letter-spacing="-0.3">33483.7</text>
<g clip-path="url(#cd)">
<text x="9" y="633" font-size="10" fill="#000" letter-spacing="-0.3">MACD(12,26,9) 66.19 65.49</text>
<rect x="4" y="681" width="3" height="27" fill="#00ff00"/>
<rect x="20" y="678" width="3" height="30" fill="#00ff00"/>
<rect x="36" y="671" width="3" height="37" fill="#00ff00"/>
<rect x="52" y="666" width="3" height="42" fill="#00ff00"/>
<rect x="68" y="664" width="3" height="44" fill="#00ff00"/>
<rect x="84" y="664" width="3" height="44" fill="#00ff00"/>
<rect x="100" y="662" width="3" height="46" fill="#00ff00"/>
<rect x="116" y="662" width="3" height="46" fill="#00ff00"/>
<rect x="132" y="675" width="3" height="33" fill="#00ff00"/>
<rect x="148" y="684" width="3" height="24" fill="#00ff00"/>
<rect x="164" y="689" width="3" height="19" fill="#00ff00"/>
<rect x="180" y="693" width="3" height="15" fill="#00ff00"/>
<rect x="196" y="698" width="3" height="10" fill="#00ff00"/>
<rect x="212" y="695" width="3" height="13" fill="#00ff00"/>
<rect x="228" y="701" width="3" height="7" fill="#00ff00"/>
<rect x="244" y="704" width="3" height="4" fill="#00ff00"/>
<rect x="260" y="707" width="3" height="1" fill="#00ff00"/>
<rect x="276" y="707" width="3" height="1" fill="#00ff00"/>
<rect x="292" y="708" width="3" height="11" fill="#00ff00"/>
<rect x="308" y="708" width="3" height="13" fill="#00ff00"/>
<rect x="324" y="708" width="3" height="10" fill="#00ff00"/>
<rect x="340" y="708" width="3" height="1" fill="#00ff00"/>
<rect x="356" y="706" width="3" height="2" fill="#00ff00"/>
<rect x="372" y="705" width="3" height="3" fill="#00ff00"/>
<rect x="388" y="700" width="3" height="8" fill="#00ff00"/>
<rect x="404" y="697" width="3" height="11" fill="#00ff00"/>
<rect x="420" y="694" width="3" height="14" fill="#00ff00"/>
<rect x="436" y="691" width="3" height="17" fill="#00ff00"/>
<rect x="452" y="689" width="3" height="19" fill="#00ff00"/>
<rect x="468" y="686" width="3" height="22" fill="#00ff00"/>
<rect x="484" y="687" width="3" height="21" fill="#00ff00"/>
<rect x="500" y="686" width="3" height="22" fill="#00ff00"/>
<rect x="516" y="688" width="3" height="20" fill="#00ff00"/>
<rect x="532" y="688" width="3" height="20" fill="#00ff00"/>
<rect x="548" y="688" width="3" height="20" fill="#00ff00"/>
<rect x="564" y="686" width="3" height="22" fill="#00ff00"/>
<rect x="580" y="684" width="3" height="24" fill="#00ff00"/>
<rect x="596" y="682" width="3" height="26" fill="#00ff00"/>
<rect x="612" y="679" width="3" height="29" fill="#00ff00"/>
<rect x="628" y="677" width="3" height="31" fill="#00ff00"/>
<rect x="644" y="676" width="3" height="32" fill="#00ff00"/>
<rect x="660" y="673" width="3" height="35" fill="#00ff00"/>
<rect x="676" y="668" width="3" height="40" fill="#00ff00"/>
<rect x="692" y="669" width="3" height="39" fill="#00ff00"/>
<rect x="708" y="668" width="3" height="40" fill="#00ff00"/>
<rect x="724" y="666" width="3" height="42" fill="#00ff00"/>
<rect x="740" y="665" width="3" height="43" fill="#00ff00"/>
<rect x="756" y="666" width="3" height="42" fill="#00ff00"/>
<rect x="772" y="666" width="3" height="42" fill="#00ff00"/>
<rect x="788" y="661" width="3" height="47" fill="#00ff00"/>
<rect x="804" y="654" width="3" height="54" fill="#00ff00"/>
<rect x="820" y="649" width="3" height="59" fill="#00ff00"/>
<rect x="836" y="646" width="3" height="62" fill="#00ff00"/>
<rect x="852" y="642" width="3" height="66" fill="#00ff00"/>
<rect x="868" y="638" width="3" height="70" fill="#00ff00"/>
<rect x="884" y="634" width="3" height="74" fill="#00ff00"/>
<rect x="900" y="630" width="3" height="78" fill="#00ff00"/>
<rect x="916" y="627" width="3" height="81" fill="#00ff00"/>
<rect x="932" y="626" width="3" height="82" fill="#00ff00"/>
<rect x="948" y="627" width="3" height="81" fill="#00ff00"/>
<rect x="964" y="626" width="3" height="82" fill="#00ff00"/>
<rect x="980" y="634" width="3" height="74" fill="#00ff00"/>
<rect x="996" y="640" width="3" height="68" fill="#00ff00"/>
<rect x="1012" y="645" width="3" height="63" fill="#00ff00"/>
<rect x="1028" y="649" width="3" height="59" fill="#00ff00"/>
<rect x="1044" y="655" width="3" height="53" fill="#00ff00"/>
<rect x="1060" y="660" width="3" height="48" fill="#00ff00"/>
<rect x="1076" y="662" width="3" height="46" fill="#00ff00"/>
<rect x="1092" y="664" width="3" height="44" fill="#00ff00"/>
<rect x="1108" y="666" width="3" height="42" fill="#00ff00"/>
<rect x="1124" y="670" width="3" height="38" fill="#00ff00"/>
<rect x="1140" y="671" width="3" height="37" fill="#00ff00"/>
<rect x="1156" y="671" width="3" height="37" fill="#00ff00"/>
<rect x="1172" y="675" width="3" height="33" fill="#00ff00"/>
<rect x="1188" y="676" width="3" height="32" fill="#00ff00"/>
<rect x="1204" y="679" width="3" height="29" fill="#00ff00"/>
<rect x="1220" y="682" width="3" height="26" fill="#00ff00"/>
<rect x="1236" y="685" width="3" height="23" fill="#00ff00"/>
<rect x="1252" y="686" width="3" height="22" fill="#00ff00"/>
<rect x="1268" y="686" width="3" height="22" fill="#00ff00"/>
<rect x="1284" y="686" width="3" height="22" fill="#00ff00"/>
<rect x="1300" y="687" width="3" height="21" fill="#00ff00"/>
<rect x="1316" y="688" width="3" height="20" fill="#00ff00"/>
<rect x="1332" y="690" width="3" height="18" fill="#00ff00"/>
<rect x="1348" y="692" width="3" height="16" fill="#00ff00"/>
<rect x="1364" y="690" width="3" height="18" fill="#00ff00"/>
<rect x="1380" y="689" width="3" height="19" fill="#00ff00"/>
<rect x="1396" y="688" width="3" height="20" fill="#00ff00"/>
<polyline points="-11,706 5,703.6 21,700.3 37,695.6 53,689.6 69,683.3 85,678.6 101,674.4 117,671.0 133,669.2 149,669.2 165,671.0 181,673.0 197,676.7 213,680.1 229,684.3 245,689.6 261,694.5 277,697.6 293,701.8 309,705.2 325,707.3 341,709.4 357,709.6 373,709.6 389,709.6 405,709.6 421,708.5 437,703.6 453,701.3 469,697.9 485,695.0 501,692.8 517,690.9 533,690.3 549,689.4 565,688.0 581,686.9 597,686.2 613,685.2 629,684.3 645,683.3 661,680.9 677,679.0 693,676.7 709,674.8 725,673.0 741,671.0 757,670.1 773,669.5 789,667.3 805,665.0 821,663.1 837,660.1 853,657.3 869,654.0 885,651.2 901,647.6 917,642.7 933,638.9 949,635.1 965,633.2 981,632.3 997,631.9 1013,632.3 1029,633.6 1045,636.6 1061,639.9 1077,643.6 1093,648.0 1109,653.5 1125,657.4 1141,660.1 1157,663.1 1173,666.0 1189,668.6 1205,670.7 1221,673.3 1237,674.8 1253,676.7 1269,678.2 1285,680.1 1301,681.8 1317,684.3 1333,685.2 1349,687.1 1365,687.7 1381,687.7 1397,687.7" fill="none" stroke="#ff0000" stroke-width="2"/>
</g>
<rect x="1645" y="622" width="2" height="1" fill="#000"/>
<text x="1648" y="631" font-size="10" fill="#000" letter-spacing="-0.3">283.68</text>
<rect x="1645" y="708" width="2" height="1" fill="#000"/>
<text x="1648" y="712" font-size="10" fill="#000" letter-spacing="-0.3">0.00</text>
<rect x="1645" y="724" width="2" height="1" fill="#000"/>
<text x="1648" y="722" font-size="10" fill="#000" letter-spacing="-0.3">-52.5</text>
<g clip-path="url(#cr)">
<text x="9" y="740" font-size="10" fill="#000" letter-spacing="-0.3">RSI(14) 62.9761</text>
<line x1="6" y1="748.5" x2="1644" y2="748.5" stroke="#000" stroke-width="1" stroke-dasharray="3,3"/>
<line x1="6" y1="777.5" x2="1644" y2="777.5" stroke="#000" stroke-width="1" stroke-dasharray="3,3"/>
<line x1="6" y1="812.5" x2="1644" y2="812.5" stroke="#000" stroke-width="1" stroke-dasharray="3,3"/>
<polyline points="-11,766.7 5,766.7 21,769.9 37,766.7 53,766.7 69,766.7 85,768.6 101,767.7 117,768.6 133,782.8 149,781.5 165,779.4 181,778.4 197,780.9 213,772.4 229,780.9 245,779.6 261,779.6 277,778.1 293,787.9 309,780.0 325,776.2 341,773.0 357,773.0 373,776.5 389,773.0 405,773.5 421,773.0 437,772.0 453,771.8 469,771.8 485,773.7 501,771.8 517,776.2 533,774.3 549,772.0 565,771.0 581,769.0 597,768.6 613,766.7 629,767.7 645,767.7 661,762.9 677,761.6 693,768.6 709,766.1 725,765.2 741,765.2 757,767.7 773,765.8 789,760.5 805,755.9 821,755.9 837,757.6 853,755.0 869,754.0 885,752.2 901,750.6 917,751.6 933,751.6 949,752.5 965,751.6 981,768.6 997,766.7 1013,766.7 1029,767.1 1045,769.5 1061,769.5 1077,765.8 1093,766.1 1109,767.1 1125,769.5 1141,765.8 1157,764.8 1173,772.0 1189,770.1 1205,771.8 1221,771.8 1237,773.7 1253,772.4 1269,766.7 1285,766.7 1301,770.5 1317,771.6 1333,772.4 1349,773.9 1365,765.2 1381,765.2 1397,765.2" fill="none" stroke="#1e90ff" stroke-width="2"/>
</g>
<rect x="1645" y="729" width="2" height="1" fill="#000"/>
<text x="1648" y="738" font-size="10" fill="#000" letter-spacing="-0.3">100</text>
<text x="1648" y="752" font-size="10" fill="#000" letter-spacing="-0.3">80</text>
<text x="1648" y="781" font-size="10" fill="#000" letter-spacing="-0.3">50</text>
<text x="1648" y="816" font-size="10" fill="#000" letter-spacing="-0.3">15</text>
<text x="1648" y="824" font-size="10" fill="#000" letter-spacing="-0.3">0</text>
<rect x="1645" y="827" width="2" height="1" fill="#000"/>
<rect x="5" y="828" width="1" height="3" fill="#000"/>
<text x="4" y="840" font-size="10" fill="#000" letter-spacing="-0.35">21 Mar 2023</text>
<rect x="69" y="828" width="1" height="3" fill="#000"/>
<text x="68" y="840" font-size="10" fill="#000" letter-spacing="-0.35">22 Mar 00:00</text>
<rect x="133" y="828" width="1" height="3" fill="#000"/>
<text x="132" y="840" font-size="10" fill="#000" letter-spacing="-0.35">22 Mar 16:00</text>
<rect x="197" y="828" width="1" height="3" fill="#000"/>
<text x="196" y="840" font-size="10" fill="#000" letter-spacing="-0.35">23 Mar 08:00</text>
<rect x="261" y="828" width="1" height="3" fill="#000"/>
<text x="260" y="840" font-size="10" fill="#000" letter-spacing="-0.35">24 Mar 00:00</text>
<rect x="325" y="828" width="1" height="3" fill="#000"/>
<text x="324" y="840" font-size="10" fill="#000" letter-spacing="-0.35">24 Mar 16:00</text>
<rect x="389" y="828" width="1" height="3" fill="#000"/>
<text x="388" y="840" font-size="10" fill="#000" letter-spacing="-0.35">27 Mar 08:00</text>
<rect x="453" y="828" width="1" height="3" fill="#000"/>
<text x="452" y="840" font-size="10" fill="#000" letter-spacing="-0.35">28 Mar 00:00</text>
<rect x="517" y="828" width="1" height="3" fill="#000"/>
<text x="516" y="840" font-size="10" fill="#000" letter-spacing="-0.35">28 Mar 16:00</text>
<rect x="581" y="828" width="1" height="3" fill="#000"/>
<text x="580" y="840" font-size="10" fill="#000" letter-spacing="-0.35">29 Mar 08:00</text>
<rect x="645" y="828" width="1" height="3" fill="#000"/>
<text x="644" y="840" font-size="10" fill="#000" letter-spacing="-0.35">30 Mar 00:00</text>
<rect x="709" y="828" width="1" height="3" fill="#000"/>
<text x="708" y="840" font-size="10" fill="#000" letter-spacing="-0.35">30 Mar 16:00</text>
<rect x="773" y="828" width="1" height="3" fill="#000"/>
<text x="772" y="840" font-size="10" fill="#000" letter-spacing="-0.35">31 Mar 08:00</text>
<rect x="837" y="828" width="1" height="3" fill="#000"/>
<text x="836" y="840" font-size="10" fill="#000" letter-spacing="-0.35">3 Apr 00:00</text>
<rect x="901" y="828" width="1" height="3" fill="#000"/>
<text x="900" y="840" font-size="10" fill="#000" letter-spacing="-0.35">3 Apr 16:00</text>
<rect x="965" y="828" width="1" height="3" fill="#000"/>
<text x="964" y="840" font-size="10" fill="#000" letter-spacing="-0.35">4 Apr 08:00</text>
<rect x="1029" y="828" width="1" height="3" fill="#000"/>
<text x="1028" y="840" font-size="10" fill="#000" letter-spacing="-0.35">5 Apr 00:00</text>
<rect x="1093" y="828" width="1" height="3" fill="#000"/>
<text x="1092" y="840" font-size="10" fill="#000" letter-spacing="-0.35">5 Apr 16:00</text>
<rect x="1157" y="828" width="1" height="3" fill="#000"/>
<text x="1156" y="840" font-size="10" fill="#000" letter-spacing="-0.35">6 Apr 08:00</text>
<rect x="1221" y="828" width="1" height="3" fill="#000"/>
<text x="1220" y="840" font-size="10" fill="#000" letter-spacing="-0.35">7 Apr 00:00</text>
<rect x="1285" y="828" width="1" height="3" fill="#000"/>
<text x="1284" y="840" font-size="10" fill="#000" letter-spacing="-0.35">9 Apr 23:00</text>
<rect x="1349" y="828" width="1" height="3" fill="#000"/>
<text x="1348" y="840" font-size="10" fill="#000" letter-spacing="-0.35">10 Apr 12:00</text>
</svg>
</body></html>
